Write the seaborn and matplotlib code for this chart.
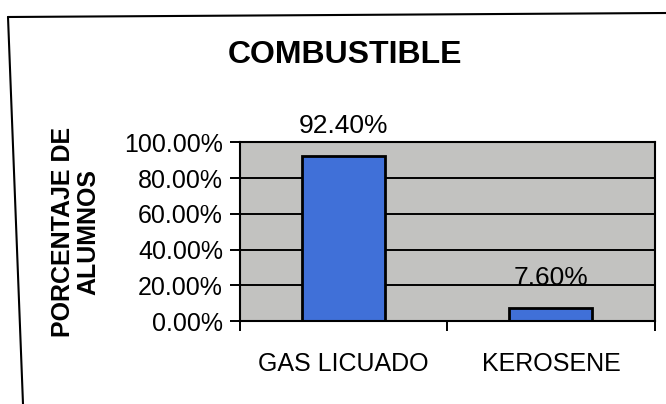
import matplotlib
matplotlib.use("Agg")
import matplotlib.pyplot as plt
from matplotlib.lines import Line2D
import seaborn as sns
import pandas as pd

# ============================================
# DATA
# ============================================

categorias = ["GAS LICUADO", "KEROSENE"]
porcentajes = [92.40, 7.60]
y_ticks = [0, 20, 40, 60, 80, 100]
y_tick_labels = ["0.00%", "20.00%", "40.00%", "60.00%", "80.00%", "100.00%"]

titulo = "COMBUSTIBLE"
etiqueta_y = "PORCENTAJE DE\nALUMNOS"

df = pd.DataFrame({"combustible": categorias, "porcentaje": porcentajes})

# ============================================
# STYLE
# ============================================

sns.set_style("white", {"text.color": "black", "axes.labelcolor": "black",
                        "xtick.color": "black", "ytick.color": "black"})
plt.rcParams["font.family"] = ["Liberation Sans", "DejaVu Sans"]

fig = plt.figure(figsize=(6.66, 4.04), dpi=100)
fig.patch.set_facecolor("white")
ax = fig.add_axes([0.360, 0.205, 0.623, 0.443])

ax.set_facecolor("#c2c2c0")

sns.barplot(data=df, x="combustible", y="porcentaje", ax=ax,
            color="#4070d8", width=0.4, edgecolor="black",
            linewidth=2, saturation=1)

ax.set_xlim(-0.5, 1.5)
ax.set_ylim(0, 100)

# horizontal gridlines
ax.set_yticks(y_ticks)
ax.set_yticklabels(y_tick_labels)
ax.yaxis.grid(True, color="black", linewidth=1.4)
ax.set_axisbelow(True)

for s in ax.spines.values():
    s.set_color("black")
    s.set_linewidth(1.5)

ax.tick_params(axis="y", which="major", direction="out", length=7,
               width=1.4, color="black", labelcolor="black",
               labelsize=18, pad=5, left=True)

# category separators ticks
ax.set_xticks([-0.5, 0.5, 1.5], minor=True)
ax.tick_params(axis="x", which="minor", direction="out", length=7,
               width=1.4, color="black", bottom=True)
ax.tick_params(axis="x", which="major", length=0, labelsize=18, pad=22,
               labelcolor="black")

ax.set_xlabel("")
ax.set_ylabel(etiqueta_y, fontsize=18, fontweight="bold", linespacing=1.1,
              color="black")
ax.yaxis.set_label_coords(-0.335, 0.5)

# data labels
for i, v in enumerate(porcentajes):
    ax.annotate(f"{v:.2f}%", xy=(i, v), xytext=(0, 13),
                textcoords="offset points", ha="center", va="bottom",
                fontsize=19, color="black")

fig.text(345 / 666, 1 - 55 / 404, titulo, ha="center", va="center",
         fontsize=23, fontweight="bold", color="black")

# chart outer frame (top and left edges visible in the scan)
fig.add_artist(Line2D([8 / 666, 1.0], [1 - 17 / 404, 1 - 13 / 404],
                      transform=fig.transFigure, color="black", linewidth=1.5))
fig.add_artist(Line2D([8 / 666, 23 / 666], [1 - 17 / 404, 0.0],
                      transform=fig.transFigure, color="black", linewidth=1.5))

fig.savefig("out.png", dpi=100)
